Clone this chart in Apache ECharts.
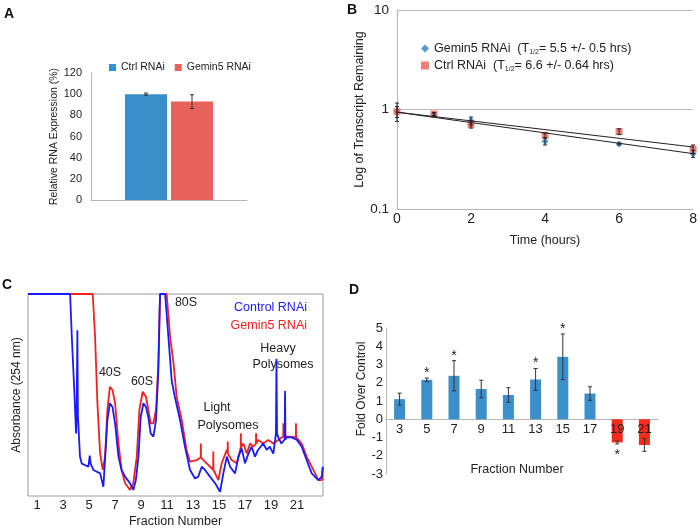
<!DOCTYPE html>
<html><head><meta charset="utf-8">
<script src="https://cdn.jsdelivr.net/npm/echarts@6/dist/echarts.min.js"></script>
<style>html,body{margin:0;padding:0;background:#fff}#c{width:700px;height:530px}</style>
</head><body><div id="c"></div>
<script>
// ---------- Panel A ----------
const expressionGroups = ['Ctrl RNAi', 'Gemin5 RNAi'];
const expressionValues = [100, 93];
const expressionErrors = [1, 6.5];
// ---------- Panel B ----------
const decayTimes = [0, 1, 2, 4, 6, 8];
const gemin5Remaining = [0.96, 0.90, 0.77, 0.48, 0.45, 0.36];
const gemin5Err = [0.2, 0.03, 0.07, 0.04, 0.01, 0.03];
const ctrlRemaining = [0.95, 0.90, 0.71, 0.55, 0.60, 0.40];
const ctrlErr = [0.12, 0.03, 0.06, 0.03, 0.04, 0.04];
const gemin5FitEnds = [[0, 0.94], [8, 0.36]];
const ctrlFitEnds = [[0, 0.94], [8, 0.42]];
const halfLifeText = {'Gemin5 RNAi B': ['Gemin5 RNAi  (T', '= 5.5 +/- 0.5 hrs)'], 'Ctrl RNAi B': ['Ctrl RNAi  (T', '= 6.6 +/- 0.64 hrs)']};
// ---------- Panel C ----------
const fractionTicks = [1, 3, 5, 7, 9, 11, 13, 15, 17, 19, 21];
const controlTrace = [[0.3,100],[3.54,100],[3.67,79],[3.85,54],[4.0,31],[4.05,45],[4.1,82],[4.14,40],[4.3,19.5],[4.44,16],[4.95,14.5],[5.05,20],[5.12,16],[5.33,12.9],[5.85,11.2],[6.1,4.6],[6.41,37.6],[6.6,45.9],[6.8,44],[7.0,36],[7.26,19.5],[7.5,12.9],[7.77,9.6],[8.15,6.3],[8.4,3],[8.6,7.9],[8.8,19.5],[8.97,39],[9.18,45.9],[9.38,44],[9.56,39],[9.74,31],[9.95,29.4],[10.15,37.6],[10.33,62],[10.46,100],[10.85,100],[11.1,79],[11.36,57],[11.6,49],[12.0,37.6],[12.38,24.4],[12.77,12.9],[13.15,8.7],[13.4,9.6],[13.67,14.5],[13.92,12.9],[14.3,9.6],[14.7,6.3],[15.08,2.1],[15.33,11.2],[15.6,19.5],[15.85,14.5],[16.23,11.2],[16.5,19.5],[16.74,23.6],[17.0,16.2],[17.26,21],[17.5,24.4],[17.77,19.5],[18.0,22.8],[18.4,26],[18.67,22.8],[18.9,24.4],[19.18,21],[19.38,31],[19.42,68],[19.46,31],[19.56,29],[19.8,26],[20.05,28],[20.08,52],[20.11,28],[20.2,29],[20.6,29],[21.0,27.7],[21.36,24.4],[21.74,17.8],[22.13,11.2],[22.64,7.9],[22.9,9.6],[23.0,14.5]];
const gemin5Trace = [[0.3,100],[5.28,100],[5.46,79],[5.64,46],[5.85,21],[6.05,12.9],[6.23,19.5],[6.41,42.6],[6.6,54],[6.8,52.5],[7.0,46],[7.26,26],[7.5,12.9],[7.77,6.3],[8.15,3],[8.4,6.3],[8.67,19.5],[8.87,42.6],[9.13,51.6],[9.38,49],[9.56,42.6],[9.74,36],[9.95,36],[10.15,42.6],[10.33,65.7],[10.46,100],[10.97,100],[11.23,79],[11.5,65.7],[11.74,49],[12.13,37.6],[12.5,22.8],[12.77,17],[13.28,17.8],[13.59,19],[13.6,26],[13.61,19],[13.67,19.5],[14.05,16.2],[14.55,13],[14.56,22],[14.57,13],[14.95,7.9],[15.2,16.2],[15.6,22.8],[15.66,21],[15.67,27],[15.68,21],[15.97,17.8],[16.36,16.2],[16.62,22.8],[16.67,24],[16.68,31],[16.69,24],[16.87,26],[17.13,21],[17.38,26],[17.64,24.4],[17.84,26],[17.85,31],[17.86,26],[18.0,27.7],[18.4,26],[18.8,27.7],[19.18,26],[19.56,27.7],[19.94,29.4],[19.95,36],[19.96,29.4],[20.46,29.4],[20.91,29],[20.92,36],[20.93,29],[21.0,28.5],[21.36,26],[21.74,19.5],[22.26,12.9],[22.64,7.9],[22.93,7.9],[22.95,14],[22.97,7.9],[23.0,7.9]];
const peakLabels = ['80S', '40S', '60S', 'Light', 'Polysomes', 'Heavy', 'Polysomes'];
// ---------- Panel D ----------
const fractionCats = ['3', '5', '7', '9', '11', '13', '15', '17', '19', '21'];
const foldValues = [1.1, 2.16, 2.38, 1.66, 1.33, 2.18, 3.42, 1.41, -1.27, -1.41];
const foldErrors = [0.33, 0.1, 0.83, 0.48, 0.4, 0.6, 1.25, 0.37, 0.08, 0.35];
const foldSignificant = [false, true, true, false, false, true, true, false, true, false];

const FONT = "'Liberation Sans',Arial,sans-serif";
const TXT = '#222';
const AX = '#b5b5b5';
const BLUE_A = '#3a8fca', RED_A = '#e8625b';
const BLUE_D = '#3b8fca', RED_D = '#fb2a1c';
const BAR_A_W = 42, BAR_A_GAP = 4;

const chart = echarts.init(document.getElementById('c'), null, {renderer: 'canvas'});

function errRender(color, capHalf, offsetFn, starFn) {
  return function (params, api) {
    const x = api.value(0), m = api.value(1), e = api.value(2);
    const off = offsetFn ? offsetFn(params.dataIndex) : 0;
    const top = api.coord([x, m + e]);
    const bot = api.coord([x, m - e]);
    const cx = top[0] + off;
    const children = [
      {type: 'line', shape: {x1: cx, y1: top[1], x2: cx, y2: bot[1]}, style: {stroke: color, lineWidth: 1}},
      {type: 'line', shape: {x1: cx - capHalf, y1: top[1], x2: cx + capHalf, y2: top[1]}, style: {stroke: color, lineWidth: 1}},
      {type: 'line', shape: {x1: cx - capHalf, y1: bot[1], x2: cx + capHalf, y2: bot[1]}, style: {stroke: color, lineWidth: 1}}
    ];
    if (starFn && starFn(params.dataIndex)) {
      const y = m >= 0 ? top[1] - 5 : bot[1] + 11;
      children.push({type: 'text', style: {text: '*', x: cx, y: y, align: 'center', verticalAlign: 'middle', fontSize: 14, fontFamily: FONT, fill: TXT}});
    }
    return {type: 'group', children: children};
  };
}

// category labels of panel D drawn on the zero line
function zeroLineLabel(params, api) {
  const p = api.coord([api.value(0), 0]);
  return {type: 'text', style: {text: fractionCats[params.dataIndex], x: p[0], y: p[1] + 4, align: 'center', verticalAlign: 'top',
    fontSize: 13, fontFamily: FONT, fill: TXT}};
}

const option = {
  animation: false,
  backgroundColor: '#fff',
  textStyle: {fontFamily: FONT, color: TXT},
  legend: [
    {
      data: [{name: 'Ctrl RNAi'}, {name: 'Gemin5 RNAi'}],
      left: 104, top: 57, icon: 'rect', itemWidth: 7, itemHeight: 7, itemGap: 10,
      textStyle: {fontFamily: FONT, fontSize: 10.5, color: TXT}, selectedMode: false
    },
    {
      data: [{name: 'Gemin5 RNAi B', icon: 'diamond'}, {name: 'Ctrl RNAi B', icon: 'rect'}],
      left: 416, top: 37, orient: 'vertical', itemWidth: 8, itemHeight: 8, itemGap: 3,
      selectedMode: false,
      formatter: function (name) { const t = halfLifeText[name]; return '{n|' + t[0] + '}{s|1/2}{n|' + t[1] + '}'; },
      textStyle: {fontFamily: FONT, fontSize: 12.5, color: TXT,
        rich: {n: {fontFamily: FONT, fontSize: 12.5, color: TXT, lineHeight: 15},
               s: {fontFamily: FONT, fontSize: 7, color: TXT, verticalAlign: 'bottom', lineHeight: 15}}}
    },
    {
      data: [{name: 'Control RNAi', textStyle: {color: '#1a1aff'}}, {name: 'Gemin5 RNAi C', textStyle: {color: '#f42020'}}],
      right: 383, top: 296, orient: 'vertical', align: 'right', icon: 'none', itemWidth: 0, itemHeight: 0, itemGap: 5,
      selectedMode: false,
      formatter: function (name) { return name === 'Gemin5 RNAi C' ? 'Gemin5 RNAi' : name; },
      textStyle: {fontFamily: FONT, fontSize: 12.5}
    }
  ],
  grid: [
    {left: 91, top: 73, width: 156, height: 127},
    {left: 397, top: 10, width: 300, height: 199},
    {left: 28, top: 294, width: 295, height: 202, show: true, borderColor: '#999', borderWidth: 1},
    {left: 386, top: 328, width: 272, height: 146}
  ],
  xAxis: [
    {gridIndex: 0, type: 'category', data: ['Relative expression'], axisLabel: {show: false}, axisTick: {show: false},
     axisLine: {lineStyle: {color: AX}}},
    {gridIndex: 1, type: 'value', min: 0, max: 8, interval: 2, axisTick: {show: false},
     axisLine: {lineStyle: {color: AX}}, splitLine: {show: false},
     axisLabel: {fontSize: 14, color: TXT, fontFamily: FONT, margin: 3},
     name: 'Time (hours)', nameLocation: 'middle', nameGap: 25, nameTextStyle: {fontSize: 12.5, color: TXT, fontFamily: FONT}},
    {gridIndex: 2, type: 'value', min: 0.3, max: 23, axisTick: {show: false}, axisLine: {show: false}, splitLine: {show: false},
     axisLabel: {customValues: fractionTicks, fontSize: 13, color: TXT, fontFamily: FONT, margin: 3},
     name: 'Fraction Number', nameLocation: 'middle', nameGap: 19, nameTextStyle: {fontSize: 12.5, color: TXT, fontFamily: FONT}},
    {gridIndex: 3, type: 'category', data: fractionCats, axisTick: {show: false},
     axisLine: {onZero: true, lineStyle: {color: AX}},
     axisLabel: {show: false}}
  ],
  yAxis: [
    {gridIndex: 0, type: 'value', min: 0, max: 120, interval: 20, axisTick: {show: false},
     axisLine: {show: true, lineStyle: {color: AX}}, splitLine: {show: false},
     axisLabel: {fontSize: 11, color: TXT, fontFamily: FONT, margin: 9},
     name: 'Relative RNA Expression (%)', nameLocation: 'middle', nameGap: 27, nameRotate: 90,
     nameTextStyle: {fontSize: 10.5, color: TXT, fontFamily: FONT}},
    {gridIndex: 1, type: 'log', logBase: 10, min: 0.1, max: 10, axisTick: {show: false},
     axisLine: {show: true, lineStyle: {color: AX}}, splitLine: {show: true, lineStyle: {color: '#bdbdbd'}},
     axisLabel: {fontSize: 13.5, color: TXT, fontFamily: FONT, margin: 8},
     name: 'Log of Transcript Remaining', nameLocation: 'middle', nameGap: 25,
     nameTextStyle: {fontSize: 12.5, color: TXT, fontFamily: FONT}},
    {gridIndex: 2, type: 'value', min: 0, max: 100, axisTick: {show: false}, axisLine: {show: false},
     axisLabel: {show: false}, splitLine: {show: false},
     name: 'Absorbance (254 nm)', nameLocation: 'middle', nameGap: 5,
     nameTextStyle: {fontSize: 12, color: TXT, fontFamily: FONT}},
    {gridIndex: 3, type: 'value', min: -3, max: 5, interval: 1, axisTick: {show: false},
     axisLine: {show: true, lineStyle: {color: AX}}, splitLine: {show: false},
     axisLabel: {fontSize: 13, color: TXT, fontFamily: FONT, margin: 3},
     name: 'Fold Over Control', nameLocation: 'middle', nameGap: 18,
     nameTextStyle: {fontSize: 12, color: TXT, fontFamily: FONT, padding: [0, 0, 0, 24]}}
  ],
  series: [
    // Panel A
    {name: expressionGroups[0], type: 'bar', xAxisIndex: 0, yAxisIndex: 0, data: [expressionValues[0]],
     barWidth: BAR_A_W, barGap: (BAR_A_GAP / BAR_A_W * 100) + '%', itemStyle: {color: BLUE_A}},
    {name: expressionGroups[1], type: 'bar', xAxisIndex: 0, yAxisIndex: 0, data: [expressionValues[1]],
     barWidth: BAR_A_W, itemStyle: {color: RED_A}},
    {type: 'custom', xAxisIndex: 0, yAxisIndex: 0, z: 5,
     data: expressionValues.map((v, i) => [0, v, expressionErrors[i]]),
     renderItem: errRender('#333', 2, i => (i === 0 ? -1 : 1) * (BAR_A_W + BAR_A_GAP) / 2)},
    // Panel B
    {name: 'Gemin5 RNAi B', type: 'scatter', xAxisIndex: 1, yAxisIndex: 1, symbol: 'diamond', symbolSize: 7,
     itemStyle: {color: '#2a80c4'}, data: decayTimes.map((t, i) => [t, gemin5Remaining[i]]), z: 3},
    {name: 'Ctrl RNAi B', type: 'scatter', xAxisIndex: 1, yAxisIndex: 1, symbol: 'rect', symbolSize: 7,
     itemStyle: {color: '#e8625b'}, data: decayTimes.map((t, i) => [t, ctrlRemaining[i]]), z: 3},
    {type: 'custom', xAxisIndex: 1, yAxisIndex: 1, z: 4,
     data: decayTimes.map((t, i) => [t, gemin5Remaining[i], gemin5Err[i]]), renderItem: errRender('#222', 2)},
    {type: 'custom', xAxisIndex: 1, yAxisIndex: 1, z: 4,
     data: decayTimes.map((t, i) => [t, ctrlRemaining[i], ctrlErr[i]]), renderItem: errRender('#222', 2)},
    {type: 'line', xAxisIndex: 1, yAxisIndex: 1, data: gemin5FitEnds, symbol: 'none', z: 5,
     lineStyle: {color: '#222', width: 1}},
    {type: 'line', xAxisIndex: 1, yAxisIndex: 1, data: ctrlFitEnds, symbol: 'none', z: 5,
     lineStyle: {color: '#222', width: 1}},
    // Panel C
    {name: 'Gemin5 RNAi C', type: 'line', xAxisIndex: 2, yAxisIndex: 2, data: gemin5Trace, symbol: 'none',
     lineStyle: {color: '#f42020', width: 1.8}, itemStyle: {color: '#f42020'}},
    {name: 'Control RNAi', type: 'line', xAxisIndex: 2, yAxisIndex: 2, data: controlTrace, symbol: 'none',
     lineStyle: {color: '#1a1aff', width: 1.8}, itemStyle: {color: '#1a1aff'}},
    // Panel D
    {type: 'bar', xAxisIndex: 3, yAxisIndex: 3, barWidth: 11,
     data: foldValues.map(v => ({value: v, itemStyle: {color: v < 0 ? RED_D : BLUE_D}}))},
    {type: 'custom', xAxisIndex: 3, yAxisIndex: 3, z: 5,
     data: foldValues.map((v, i) => [i, v, foldErrors[i]]),
     renderItem: errRender('#333', 2, null, i => foldSignificant[i])},
    {type: 'custom', xAxisIndex: 3, yAxisIndex: 3, z: 6, silent: true,
     data: fractionCats.map((c, i) => [i, 0]), renderItem: zeroLineLabel}
  ],
  graphic: [
    {type: 'text', left: 4, top: 7, style: {text: 'A', fontSize: 14, fontWeight: 'bold', fontFamily: FONT, fill: '#111'}},
    {type: 'text', left: 347, top: 3, style: {text: 'B', fontSize: 14, fontWeight: 'bold', fontFamily: FONT, fill: '#111'}},
    {type: 'text', left: 2, top: 278, style: {text: 'C', fontSize: 14, fontWeight: 'bold', fontFamily: FONT, fill: '#111'}},
    {type: 'text', left: 349, top: 283, style: {text: 'D', fontSize: 14, fontWeight: 'bold', fontFamily: FONT, fill: '#111'}},
    {type: 'text', x: 517, y: 470, style: {text: 'Fraction Number', align: 'center', verticalAlign: 'middle', fontSize: 12.5, fontFamily: FONT, fill: TXT}},
    {type: 'text', x: 186, y: 303, style: {text: peakLabels[0], align: 'center', verticalAlign: 'middle', fontSize: 12.5, fontFamily: FONT, fill: TXT}},
    {type: 'text', x: 110, y: 373, style: {text: peakLabels[1], align: 'center', verticalAlign: 'middle', fontSize: 12.5, fontFamily: FONT, fill: TXT}},
    {type: 'text', x: 142, y: 382, style: {text: peakLabels[2], align: 'center', verticalAlign: 'middle', fontSize: 12.5, fontFamily: FONT, fill: TXT}},
    {type: 'text', x: 217, y: 408, style: {text: peakLabels[3], align: 'center', verticalAlign: 'middle', fontSize: 12.5, fontFamily: FONT, fill: TXT}},
    {type: 'text', x: 228, y: 426, style: {text: peakLabels[4], align: 'center', verticalAlign: 'middle', fontSize: 12.5, fontFamily: FONT, fill: TXT}},
    {type: 'text', x: 278, y: 349, style: {text: peakLabels[5], align: 'center', verticalAlign: 'middle', fontSize: 12.5, fontFamily: FONT, fill: TXT}},
    {type: 'text', x: 283, y: 365, style: {text: peakLabels[6], align: 'center', verticalAlign: 'middle', fontSize: 12.5, fontFamily: FONT, fill: TXT}}
  ]
};
chart.setOption(option);
</script>
</body></html>
